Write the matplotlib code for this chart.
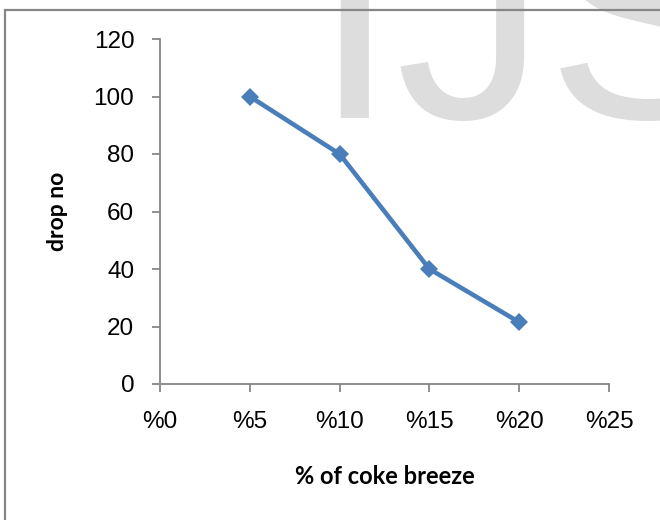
import numpy as np
import matplotlib
matplotlib.use('Agg')
import matplotlib.pyplot as plt
from matplotlib.patches import Rectangle

# coke breeze content (%) against number of drops
coke = [5, 10, 15, 20]
drops = [100, 80, 40, 21.5]
xticks = [0, 5, 10, 15, 20, 25]
yticks = [0, 20, 40, 60, 80, 100, 120]

W, H = 660, 520
fig = plt.figure(figsize=(W / 100, H / 100), dpi=100)

# faint watermark behind everything
fig.text(312 / W, 1 - 118 / H, 'IJS', fontsize=217, color='#dddddd',
         family='Liberation Sans', ha='left', va='baseline', zorder=0)

# chart area frame
fig.patches.append(Rectangle((5 / W, -0.2), 1.5, 1 - 10 / H + 0.2,
                             transform=fig.transFigure, fill=False,
                             edgecolor='#868686', linewidth=1.6, zorder=1))

ax = fig.add_axes([160 / W, 1 - 384 / H, (609 - 160) / W, (384 - 39) / H])
ax.patch.set_alpha(0)
ax.set_zorder(2)

ax.plot(coke, drops, color='#4a7ebb', linewidth=3.3, marker='D',
        markersize=9, markeredgewidth=0, solid_joinstyle='round')

ax.set_xlim(0, 25)
ax.set_ylim(0, 120)
ax.set_xticks(xticks)
ax.set_xticklabels(['%' + str(t) for t in xticks])
ax.set_yticks(yticks)

for s in ['top', 'right']:
    ax.spines[s].set_visible(False)
for s in ['left', 'bottom']:
    ax.spines[s].set_color('#868686')
    ax.spines[s].set_linewidth(1.3)

ax.tick_params(axis='x', direction='out', length=6, width=1.3, color='#868686',
               labelsize=17.5, pad=13.5)
ax.tick_params(axis='y', direction='out', length=5.5, width=1.3, color='#868686',
               labelsize=17.5, pad=13)
for lab in ax.get_xticklabels() + ax.get_yticklabels():
    lab.set_family('Liberation Sans')

fig.text(385 / W, 1 - 477 / H, '% of coke breeze', ha='center', va='center',
         fontsize=17, fontweight='bold', family='Lato')
fig.text(57 / W, 1 - 211 / H, 'drop no', ha='center', va='center',
         rotation=90, fontsize=16.5, fontweight='bold', family='Lato')

fig.savefig('out.png', dpi=100)
